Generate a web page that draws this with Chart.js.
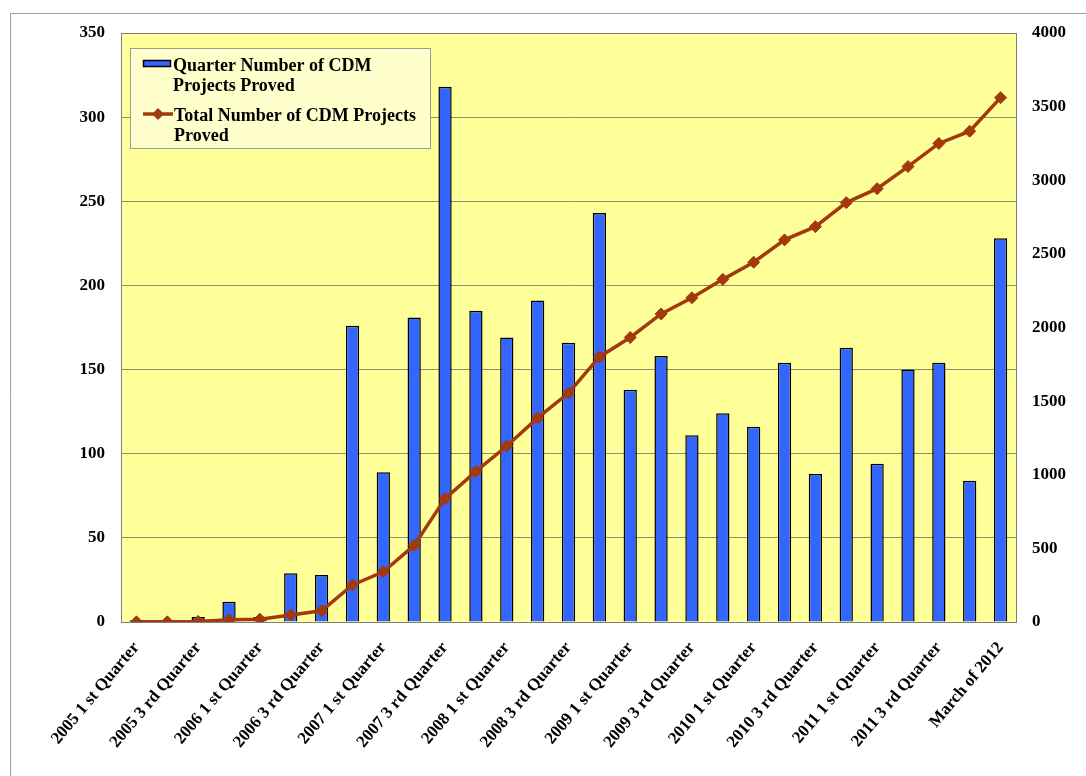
<!DOCTYPE html>
<html>
<head>
<meta charset="utf-8">
<script src="https://cdn.jsdelivr.net/npm/chart.js@4.4.1/dist/chart.umd.min.js"></script>
<style>
  html, body { margin: 0; padding: 0; background: #fff; }
  #wrap { width: 1086px; height: 776px; position: relative; }
</style>
</head>
<body>
<div id="wrap"><canvas id="myChart"></canvas></div>
<script>
const quarters = [
    '2005 1 st Quarter', '2005 2 nd Quarter', '2005 3 rd Quarter', '2005 4 th Quarter',
    '2006 1 st Quarter', '2006 2 nd Quarter', '2006 3 rd Quarter', '2006 4 th Quarter',
    '2007 1 st Quarter', '2007 2 nd Quarter', '2007 3 rd Quarter', '2007 4 th Quarter',
    '2008 1 st Quarter', '2008 2 nd Quarter', '2008 3 rd Quarter', '2008 4 th Quarter',
    '2009 1 st Quarter', '2009 2 nd Quarter', '2009 3 rd Quarter', '2009 4 th Quarter',
    '2010 1 st Quarter', '2010 2 nd Quarter', '2010 3 rd Quarter', '2010 4 th Quarter',
    '2011 1 st Quarter', '2011 2 nd Quarter', '2011 3 rd Quarter', '2011 4 th Quarter',
    'March of 2012'
];
const quarterProjects = [1, 0, 3, 12, 3, 29, 28, 176, 89, 181, 318, 185, 169, 191, 166, 243,
    138, 158, 111, 124, 116, 154, 88, 163, 94, 150, 154, 84, 228];
const totalProjects = [1, 1, 4, 16, 19, 48, 76, 252, 341, 520, 838, 1023, 1195, 1386, 1555, 1800,
    1932, 2092, 2202, 2327, 2443, 2595, 2685, 2848, 2943, 3093, 3250, 3333, 3561];
const leftTicks = [0, 50, 100, 150, 200, 250, 300, 350];
const rightTicks = [0, 500, 1000, 1500, 2000, 2500, 3000, 3500, 4000];

const serif = '"Liberation Serif", "Times New Roman", serif';
const barColor = '#3366FF';
const lineColor = '#A3390D';

// yellow plot background, outer frame, plot border and the boxed legend
const decor = {
    id: 'decor',
    beforeDraw(chart) {
        const c = chart.ctx, a = chart.chartArea;
        c.save();
        c.fillStyle = '#FFFF99';
        c.fillRect(a.left, a.top, a.right - a.left, a.bottom - a.top);
        c.strokeStyle = '#A0A0A0';
        c.lineWidth = 1;
        c.beginPath();
        c.moveTo(10.5, 776);
        c.lineTo(10.5, 13.5);
        c.lineTo(1086, 13.5);
        c.stroke();
        c.restore();
    },
    afterDraw(chart) {
        const c = chart.ctx, a = chart.chartArea;
        c.save();
        c.strokeStyle = '#7F7F7F';
        c.lineWidth = 1;
        c.strokeRect(a.left + 0.5, a.top + 0.5, a.right - a.left, a.bottom - a.top);

        // legend
        const lx = 130.5, ly = 48.5, lw = 300, lh = 100;
        c.fillStyle = '#FFFFCC';
        c.fillRect(lx, ly, lw, lh);
        c.strokeStyle = '#9A9A9A';
        c.strokeRect(lx, ly, lw, lh);

        const ds = chart.data.datasets;
        c.fillStyle = barColor;
        c.fillRect(143, 60, 28, 7);
        c.strokeStyle = '#000';
        c.lineWidth = 1.5;
        c.strokeRect(143.5, 60.5, 27, 6);

        c.strokeStyle = lineColor;
        c.lineWidth = 3.5;
        c.beginPath();
        c.moveTo(143, 114);
        c.lineTo(173, 114);
        c.stroke();
        c.fillStyle = lineColor;
        c.beginPath();
        c.moveTo(158, 108); c.lineTo(164, 114); c.lineTo(158, 120); c.lineTo(152, 114);
        c.closePath();
        c.fill();

        c.fillStyle = '#000';
        c.font = 'bold 18px ' + serif;
        c.textBaseline = 'alphabetic';
        c.textAlign = 'left';
        ds[0].legendLines.forEach((t, i) => c.fillText(t, 173, 71 + i * 20));
        ds[1].legendLines.forEach((t, i) => c.fillText(t, 174, 121 + i * 20));
        c.restore();
    }
};

const ctx = document.getElementById('myChart').getContext('2d');
const myChart = new Chart(ctx, {
    type: 'bar',
    data: {
        labels: quarters,
        datasets: [{
            type: 'bar',
            label: 'Quarter Number of CDM Projects Proved',
            legendLines: ['Quarter Number of CDM', 'Projects Proved'],
            data: quarterProjects,
            yAxisID: 'y',
            backgroundColor: barColor,
            borderColor: '#000',
            borderWidth: 1.5,
            barPercentage: 0.43,
            categoryPercentage: 1,
            order: 2
        }, {
            type: 'line',
            label: 'Total Number of CDM Projects Proved',
            legendLines: ['Total Number of CDM Projects', 'Proved'],
            data: totalProjects,
            yAxisID: 'y2',
            borderColor: lineColor,
            backgroundColor: lineColor,
            borderWidth: 3.5,
            pointStyle: 'rectRot',
            pointRadius: 6,
            pointBorderWidth: 1,
            tension: 0,
            order: 1
        }]
    },
    options: {
        responsive: true,
        maintainAspectRatio: false,
        animation: false,
        layout: { padding: { top: 33, left: 0, right: 0, bottom: 0 } },
        plugins: {
            legend: { display: false },
            tooltip: { enabled: false }
        },
        scales: {
            x: {
                offset: true,
                grid: { display: false },
                border: { display: false },
                ticks: {
                    autoSkip: false,
                    minRotation: 50,
                    maxRotation: 50,
                    padding: 8,
                    color: '#000',
                    font: { family: serif, size: 17, weight: 'bold' },
                    callback: function (v, i) { return i % 2 === 0 ? quarters[i] : ''; }
                },
                afterFit(s) { s.height = 154; }
            },
            y: {
                position: 'left',
                min: 0,
                max: 350,
                afterBuildTicks(s) { s.ticks = leftTicks.map(v => ({ value: v })); },
                grid: { color: '#8F8F6F', lineWidth: 1, drawTicks: false },
                border: { display: false },
                ticks: {
                    padding: 16,
                    color: '#000',
                    font: { family: serif, size: 17, weight: 'bold' },
                    callback: v => String(v)
                },
                afterFit(s) { s.width = 121; }
            },
            y2: {
                position: 'right',
                min: 0,
                max: 4000,
                afterBuildTicks(s) { s.ticks = rightTicks.map(v => ({ value: v })); },
                grid: { drawOnChartArea: false, drawTicks: false },
                border: { display: false },
                ticks: {
                    padding: 16,
                    color: '#000',
                    font: { family: serif, size: 17, weight: 'bold' },
                    callback: v => String(v)
                },
                afterFit(s) { s.width = 70; }
            }
        }
    },
    plugins: [decor]
});
</script>
</body>
</html>
